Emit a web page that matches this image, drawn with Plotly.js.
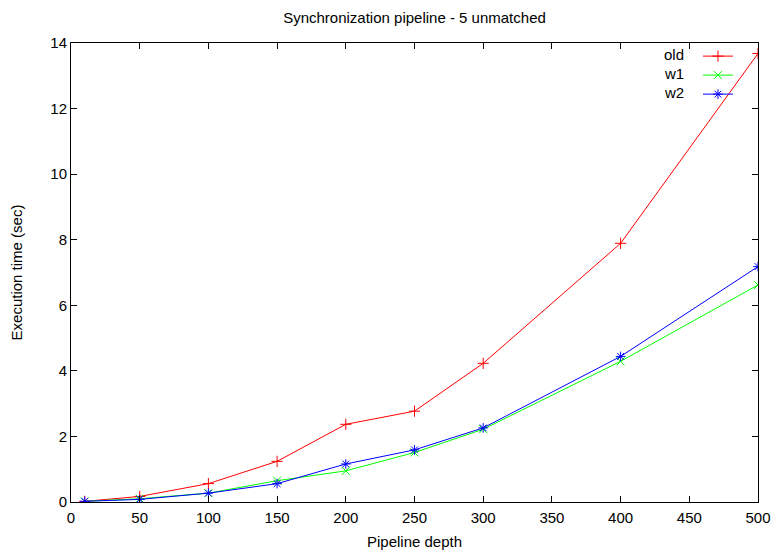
<!DOCTYPE html>
<html>
<head>
<meta charset="utf-8">
<script src="https://cdn.plot.ly/plotly-3.0.1.min.js"></script>
<style>html,body{margin:0;padding:0;background:#fff}#chart{width:777px;height:555px}</style>
</head>
<body>
<div id="chart"></div>
<script>
const depth = [10, 50, 100, 150, 200, 250, 300, 400, 500];
const oldTimes = [0.02, 0.17, 0.56, 1.24, 2.37, 2.77, 4.23, 7.89, 13.68];
const w1Times = [0.02, 0.10, 0.27, 0.65, 0.95, 1.51, 2.22, 4.29, 6.62];
const w2Times = [0.02, 0.08, 0.27, 0.56, 1.16, 1.59, 2.26, 4.44, 7.18];
const seriesNames = ['old', 'w1', 'w2'];
const seriesColors = ['#ff0000', '#00ff00', '#0000ff'];
const seriesSymbols = ['cross-thin-open', 'x-thin-open', 'asterisk-open'];
const seriesValues = [oldTimes, w1Times, w2Times];
const xTicks = [0, 50, 100, 150, 200, 250, 300, 350, 400, 450, 500];
const yTicks = [0, 2, 4, 6, 8, 10, 12, 14];

const font = {family: 'Liberation Sans, Arial, sans-serif', size: 15, color: '#000'};

const traces = seriesValues.map((vals, i) => ({
  x: depth, y: vals, type: 'scatter', mode: 'lines+markers',
  name: '', showlegend: true,
  line: {color: seriesColors[i], width: 1},
  marker: {symbol: seriesSymbols[i], size: 8, color: seriesColors[i], line: {color: seriesColors[i], width: 1}}
}));

const legendRowsY = [0.976, 0.9346, 0.8932];
const annotations = seriesNames.map((n, i) => ({
  text: n, xref: 'paper', yref: 'paper', x: 0.895, y: legendRowsY[i],
  xanchor: 'right', yanchor: 'middle', showarrow: false, font: font
}));

const axisCommon = {
  showline: true, linecolor: '#000', linewidth: 1, mirror: 'ticks',
  ticks: 'inside', ticklen: 6, tickcolor: '#000', tickwidth: 1,
  showgrid: false, zeroline: false, tickfont: font
};

const layout = {
  width: 777, height: 555,
  margin: {l: 71, r: 19, t: 43, b: 53},
  paper_bgcolor: '#fff', plot_bgcolor: '#fff',
  font: font,
  title: {text: 'Synchronization pipeline - 5 unmatched', font: font, xref: 'paper', x: 0.5, xanchor: 'center', y: 0.9676, yanchor: 'middle'},
  xaxis: {...axisCommon, range: [0, 500], tickvals: xTicks, ticktext: xTicks.map(String), ticklabelstandoff: 2,
    title: {text: 'Pipeline depth', font: font, standoff: 11}},
  yaxis: {...axisCommon, range: [0, 14], tickvals: yTicks, ticktext: yTicks.map(String),
    title: {text: 'Execution time (sec)', font: font, standoff: 24}},
  showlegend: true,
  legend: {x: 0.9126, y: 1.003, xanchor: 'left', yanchor: 'top', bgcolor: 'rgba(0,0,0,0)',
    font: {...font, size: 10}, tracegroupgap: 0, itemwidth: 30},
  annotations: annotations
};

Plotly.newPlot('chart', traces, layout, {displayModeBar: false, staticPlot: true});
</script>
</body>
</html>
